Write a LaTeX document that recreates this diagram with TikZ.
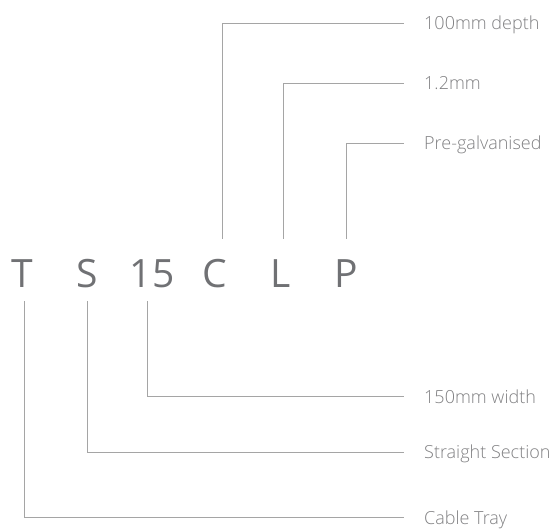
\documentclass[tikz,border=0pt]{standalone}
\usepackage{fontspec}
\usepackage{tikz}
\setmainfont{Open Sans Light}
\newfontfamily\codefont{Open Sans}
\definecolor{codegray}{RGB}{112,113,116}
\definecolor{descgray}{RGB}{128,128,130}
\definecolor{leadergray}{RGB}{165,165,165}

\begin{document}
\begin{tikzpicture}[x=1pt,y=-1pt,
  code/.style={font=\codefont\fontsize{39}{39}\selectfont, text=codegray, anchor=base,
    inner sep=0pt, text height=48pt, text depth=14pt},
  desc/.style={font=\fontsize{18}{18}\selectfont, text=descgray, anchor=west,
    inner xsep=20pt, inner ysep=0pt, text height=13pt, text depth=0pt},
  leader/.style={draw=leadergray, line width=0.9pt}]

\useasboundingbox (0,0) rectangle (560,528);

% Product code
\node[code] (t) at (22.5,287) {T};
\node[code] (s) at (87,287) {S};
\node[code] (w) at (152,287) {15};
\node[code] (c) at (215,287) {C};
\node[code] (l) at (281,287) {L};
\node[code] (p) at (346.5,287) {P};

% Descriptions - above
\node[desc] (depth) at (404,23.3) {100mm depth};
\node[desc] (gauge) at (404,83.3) {1.2mm};
\node[desc] (finish) at (404,143.3) {Pre-galvanised};

% Descriptions - below
\node[desc] (width) at (404,396.7) {150mm width};
\node[desc] (section) at (404,452.3) {Straight Section};
\node[desc] (tray) at (404,517.7) {Cable Tray};

% Leaders
\draw[leader] ([xshift=7.5pt]c.north) |- (depth.west);
\draw[leader] ([xshift=2.5pt]l.north) |- (gauge.west);
\draw[leader] (p.north) |- (finish.west);
\draw[leader] ([xshift=-5pt]w.south) |- (width.west);
\draw[leader] (s.south) |- (section.west);
\draw[leader] ([xshift=1.5pt]t.south) |- (tray.west);

\end{tikzpicture}
\end{document}
